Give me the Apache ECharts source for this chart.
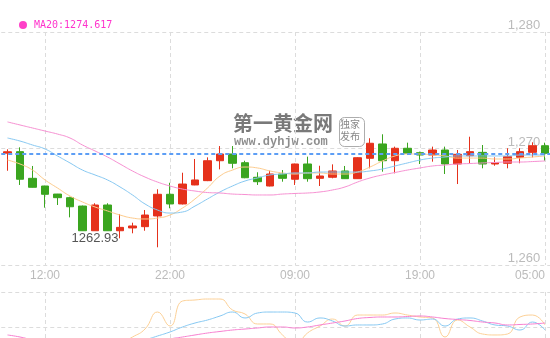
<!DOCTYPE html>
<html>
<head>
<meta charset="utf-8">
<script src="https://cdn.jsdelivr.net/npm/echarts@6/dist/echarts.min.js"></script>
<style>html,body{margin:0;padding:0;background:#fff;}#c{width:550px;height:338px;}</style>
</head>
<body>
<div id="c"></div>
<script>
const categories = ['09:00','10:00','11:00','12:00','13:00','14:00','15:00','16:00','17:00','18:00',
  '19:00','20:00','21:00','22:00','23:00','00:00','01:00','02:00','03:00','04:00',
  '05:00','07:00','08:00','09:00','10:00','11:00','12:00','13:00','14:00','15:00',
  '16:00','17:00','18:00','19:00','20:00','21:00','22:00','23:00','00:00','01:00',
  '02:00','03:00','04:00','05:00'];
const labelIndices = [3, 13, 23, 33, 43];
const yTicks = [1260, 1270, 1280];

const open  = [1269.60,1269.73,1267.44,1266.78,1266.09,1265.78,1265.06,1262.94,1265.15,1262.94,
  1263.18,1263.29,1264.21,1266.07,1265.24,1266.87,1267.24,1268.95,1269.53,1268.78,
  1267.53,1266.78,1267.81,1267.36,1268.67,1267.44,1267.53,1268.07,1267.41,1269.16,
  1270.39,1268.95,1270.02,1269.64,1269.44,1269.87,1268.67,1269.38,1269.67,1268.67,
  1268.73,1269.24,1269.67,1270.24];
const close = [1269.72,1267.36,1266.67,1266.07,1265.78,1265.00,1262.94,1265.15,1262.94,1263.23,
  1263.35,1264.29,1266.07,1265.24,1266.95,1267.30,1268.95,1269.53,1268.73,1267.49,
  1267.15,1267.81,1267.44,1268.67,1267.41,1267.64,1268.07,1267.41,1269.21,1270.45,
  1268.95,1270.02,1269.59,1269.44,1269.87,1268.67,1269.50,1269.73,1268.67,1268.78,
  1269.30,1269.73,1270.24,1269.59];
const low   = [1268.09,1266.87,1266.65,1264.92,1265.15,1264.09,1262.93,1262.93,1262.93,1262.29,
  1262.72,1262.94,1261.52,1264.87,1265.20,1266.85,1267.20,1268.21,1268.30,1267.45,
  1266.87,1266.75,1267.15,1266.87,1267.15,1266.78,1267.44,1267.40,1267.40,1268.30,
  1268.01,1267.87,1269.44,1268.67,1268.87,1267.81,1266.95,1268.73,1268.30,1268.52,
  1268.30,1268.73,1269.24,1268.95];
const high  = [1269.93,1270.10,1268.50,1266.80,1266.10,1265.86,1265.10,1265.30,1265.30,1264.38,
  1263.63,1264.72,1266.50,1267.06,1267.92,1269.10,1269.24,1270.21,1270.21,1268.95,
  1267.96,1268.10,1268.15,1268.70,1269.30,1268.52,1268.64,1268.50,1269.25,1270.88,
  1271.22,1270.16,1270.50,1269.73,1270.16,1270.16,1269.87,1271.01,1270.30,1269.24,
  1270.02,1270.02,1270.53,1270.50];

const ma5  = [1269.01,1268.67,1268.15,1267.30,1266.61,1265.92,1265.41,1264.98,1264.64,1264.29,
  1264.03,1263.95,1264.03,1264.29,1264.89,1265.67,1266.61,1267.64,1268.15,1268.41,
  1268.33,1268.07,1267.90,1267.81,1267.90,1267.90,1267.81,1267.81,1267.98,1268.41,
  1268.93,1269.36,1269.53,1269.53,1269.44,1269.36,1269.18,1269.18,1269.18,1269.10,
  1269.10,1269.18,1269.27,1269.36];
const ma10 = [1270.90,1270.64,1270.30,1269.96,1269.36,1268.76,1268.15,1267.73,1267.30,1266.70,
  1266.01,1265.24,1264.72,1264.46,1264.55,1265.06,1265.67,1266.27,1266.78,1267.21,
  1267.47,1267.73,1267.81,1267.90,1267.90,1267.98,1267.98,1267.98,1267.98,1268.07,
  1268.24,1268.50,1268.76,1269.01,1269.18,1269.27,1269.36,1269.36,1269.36,1269.36,
  1269.36,1269.44,1269.44,1269.44];
const ma20 = [1272.28,1272.02,1271.76,1271.50,1271.24,1270.90,1270.30,1269.79,1269.27,1268.67,
  1268.07,1267.55,1267.12,1266.78,1266.52,1266.35,1266.22,1266.18,1266.09,1266.05,
  1266.01,1266.01,1266.09,1266.14,1266.18,1266.27,1266.44,1266.70,1267.12,1267.47,
  1267.73,1267.94,1268.15,1268.33,1268.50,1268.58,1268.67,1268.71,1268.76,1268.80,
  1268.84,1268.84,1268.88,1268.93];

const indOrange = [24.3,17.1,10,5.7,2.9,5.7,10,14.3,20,27.1,
  35.7,47.1,71.4,51.4,87.1,88.6,90,90,74.3,68.6,
  54.3,54.3,38.6,24.3,41.4,51.4,61.4,51.4,67.1,67.1,
  67.1,70,67.1,64.3,62.9,35.7,60,50,40,38.6,
  40,64.3,67.1,52.9];
const indBlue = [17.1,10,5.7,2.9,0,0,2.9,7.1,14.3,20,
  25.7,31.4,37.1,42.9,50,55.7,60,65.7,71.4,62.9,
  70,71.4,71.4,70,57.1,62.9,58.6,51.4,52.9,52.9,
  54.3,61.4,62.9,60,61.4,51.4,61.4,62.9,58.6,52.9,
  51.4,45.7,57.1,45.7];
const indPink = [38.6,35.7,31.4,27.1,22.9,20,17.1,15.7,15.7,17.1,
  20,24.3,28.6,32.9,35.7,38.6,41.4,43.6,45.7,47.1,
  48.6,50,50,48.6,50,52.9,55.7,58.6,62.1,63.6,
  64.3,64.3,65,65.7,64.3,62.1,60.7,59.3,57.1,55.7,
  52.9,53.6,54.3,55.7];

const legendValue = '1274.617';
const minLabelIndex = 7;
const minLabelValue = 1262.93;
const lastPrice = close[close.length - 1];

const RED = '#e5311b', GREEN = '#3aa51f';
const GRIDC = '#dcdcdc';
const candleData = open.map((o, i) => [o, close[i], low[i], high[i]]);
const isLabel = (idx) => labelIndices.indexOf(idx) >= 0;
const FONT = 'Liberation Sans, Arial, sans-serif';

const chart = echarts.init(document.getElementById('c'), null, {renderer: 'canvas'});
chart.setOption({
  animation: false,
  backgroundColor: '#fff',
  legend: {
    data: [{name: 'MA20', itemStyle: {color: '#ff40c8'}}],
    left: 14, top: 15, icon: 'circle', itemWidth: 12, itemHeight: 8,
    formatter: (n) => n + ':' + legendValue,
    textStyle: {color: '#ff33cc', fontSize: 10, fontFamily: 'DejaVu Sans Mono, monospace'},
    selectedMode: false
  },
  graphic: [
    {type: 'text', left: 233, top: 113, z: 0, style: {text: '第一黄金网', fill: '#6a6a6a', font: 'bold 20px "Noto Sans CJK SC", sans-serif', opacity: 0.9}},
    {type: 'text', left: 234, top: 136, z: 0, style: {text: 'www.dyhjw.com', fill: '#7a7a7a', font: 'bold 12px "Liberation Mono", monospace', opacity: 0.85}},
    {type: 'rect', left: 337, top: 115, z: 0, shape: {width: 25, height: 29, r: 5}, style: {fill: 'none', stroke: '#999', lineWidth: 1, opacity: 0.8}},
    {type: 'text', left: 340, top: 118, z: 0, style: {text: '独家\n发布', fill: '#888', font: '10px "Noto Sans CJK SC", sans-serif', lineHeight: 12}}
  ],
  grid: [
    {left: 1.25, right: -1.25, top: 32, height: 233, outerBoundsMode: 'none'},
    {left: 1.25, right: -1.25, top: 292, height: 70, outerBoundsMode: 'none'}
  ],
  xAxis: [
    {
      type: 'category', data: categories, gridIndex: 0, boundaryGap: true,
      axisLine: {show: false}, axisTick: {show: false},
      axisLabel: {interval: (idx) => isLabel(idx), color: '#bbb', fontSize: 12, fontFamily: FONT, margin: 5, alignMaxLabel: 'right'},
      splitLine: {show: true, interval: (idx) => isLabel(idx), alignWithLabel: true, lineStyle: {color: GRIDC, type: [4, 3]}}
    },
    {
      type: 'category', data: categories, gridIndex: 1, boundaryGap: true,
      axisLine: {show: false}, axisTick: {show: false}, axisLabel: {show: false},
      splitLine: {show: true, interval: (idx) => isLabel(idx), alignWithLabel: true, lineStyle: {color: GRIDC, type: [4, 3]}}
    }
  ],
  yAxis: [
    {
      type: 'value', gridIndex: 0, position: 'right', min: yTicks[0], max: yTicks[yTicks.length - 1], interval: 10,
      axisLine: {show: false}, axisTick: {show: false},
      axisLabel: {inside: true, margin: 11, verticalAlign: 'bottom', color: '#bbb', fontSize: 13, fontFamily: FONT},
      splitLine: {lineStyle: {color: GRIDC, type: [4, 3]}}
    },
    {
      type: 'value', gridIndex: 1, min: 0, max: 100, interval: 50,
      axisLine: {show: false}, axisTick: {show: false}, axisLabel: {show: false},
      splitLine: {lineStyle: {color: GRIDC, type: [4, 3]}}
    }
  ],
  series: [
    {
      name: 'K', type: 'candlestick', data: candleData, xAxisIndex: 0, yAxisIndex: 0,
      barWidth: 8, clip: false,
      itemStyle: {color: RED, color0: GREEN, borderColor: RED, borderColor0: GREEN, borderWidth: 1},
      markLine: {
        silent: true, symbol: ['none', 'none'], label: {show: false},
        lineStyle: {color: '#5d9ef5', type: [4, 3], width: 2},
        data: [{yAxis: lastPrice}]
      },
      markPoint: {
        symbol: 'circle', symbolSize: 1, itemStyle: {color: 'rgba(0,0,0,0)'},
        label: {show: true, position: 'bottom', distance: 1, color: '#555', fontSize: 13, fontFamily: FONT, formatter: '{c}'},
        data: [{coord: [minLabelIndex, minLabelValue], value: minLabelValue}]
      }
    },
    {name: 'MA5', type: 'line', data: ma5, smooth: true, showSymbol: false, lineStyle: {color: '#fdcb8c', width: 1}, itemStyle: {color: '#fdcb8c'}},
    {name: 'MA10', type: 'line', data: ma10, smooth: true, showSymbol: false, lineStyle: {color: '#86c8f2', width: 1}, itemStyle: {color: '#86c8f2'}},
    {name: 'MA20', type: 'line', data: ma20, smooth: true, showSymbol: false, lineStyle: {color: '#f790d2', width: 1}, itemStyle: {color: '#f790d2'}},
    {name: 'I1', type: 'line', data: indOrange, xAxisIndex: 1, yAxisIndex: 1, smooth: true, showSymbol: false, lineStyle: {color: '#fcd096', width: 1}},
    {name: 'I2', type: 'line', data: indBlue, xAxisIndex: 1, yAxisIndex: 1, smooth: true, showSymbol: false, lineStyle: {color: '#86c8f2', width: 1}},
    {name: 'I3', type: 'line', data: indPink, xAxisIndex: 1, yAxisIndex: 1, smooth: true, showSymbol: false, lineStyle: {color: '#f77fcf', width: 1}}
  ]
});
</script>
</body>
</html>
